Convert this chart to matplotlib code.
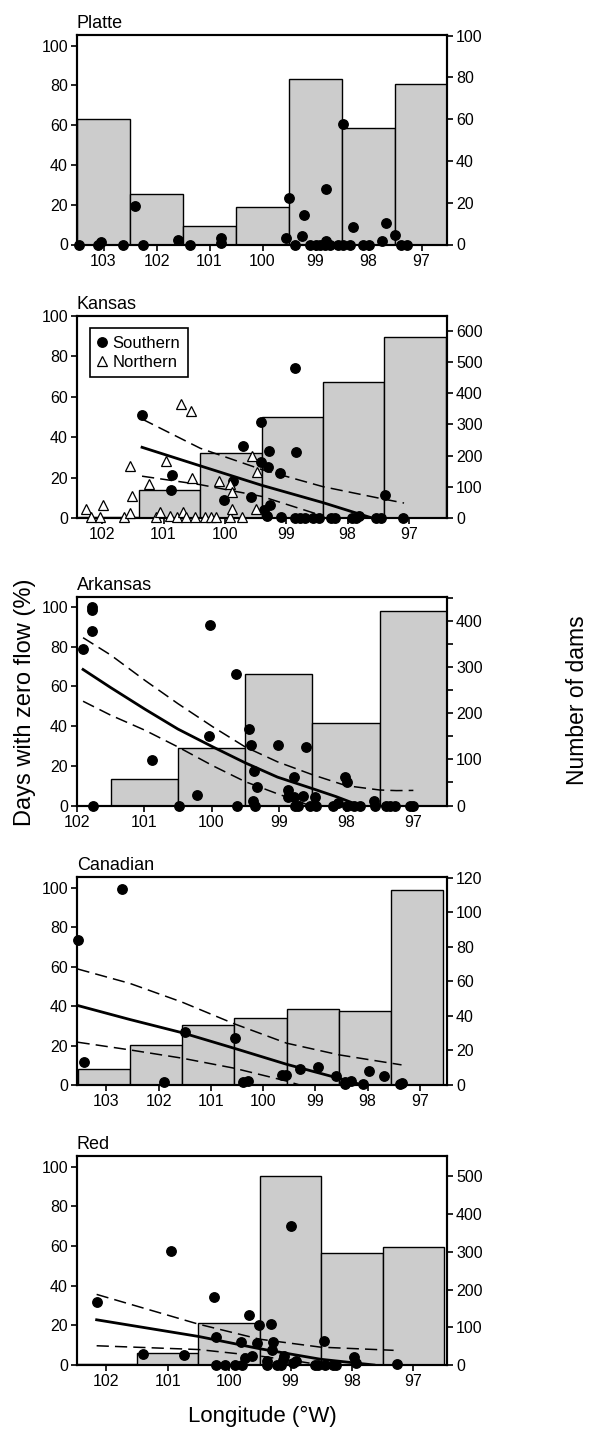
import numpy as np
import matplotlib
matplotlib.use('Agg')
import matplotlib.pyplot as plt
from matplotlib.ticker import MultipleLocator

plt.rcParams['font.family'] = ['Liberation Sans', 'DejaVu Sans']

BAR_COLOR = '#cccccc'

# ---- Platte ----
pla_bins = [103, 102, 101, 100, 99, 98, 97]
pla_dams = [60, 24, 9, 18, 79, 56, 77]
pla_lon = [103.47, 103.1, 103.04, 102.64, 102.41, 102.26, 101.59, 101.36, 100.78, 100.78,
           99.56, 99.51, 99.38, 99.26, 99.21, 99.1, 98.99, 98.92, 98.82, 98.8, 98.8, 98.73,
           98.57, 98.48, 98.48, 98.35, 98.29, 98.1, 98.0, 97.74, 97.68, 97.5, 97.38, 97.28]
pla_val = [0, 0, 1.5, 0, 19.3, 0, 2.2, 0, 3.4, 0.8,
           3.4, 23.3, 0, 4.2, 14.6, 0, 0, 0, 0, 27.7, 2, 0,
           0, 0, 60.7, 0, 8.9, 0, 0, 1.8, 10.6, 5, 0, 0]

# ---- Kansas ----
kan_bins = [101.9, 100.9, 99.9, 98.9, 97.9, 96.9]
kan_dams = [2, 89, 209, 325, 435, 582]
kan_s_lon = [101.35, 100.86, 100.87, 100.02, 99.86, 99.71, 99.58, 99.41, 99.41, 99.37, 99.32,
             99.28, 99.3, 99.27, 99.1, 99.08, 98.85, 98.84, 98.85, 98.77, 98.69, 98.56, 98.47,
             98.27, 98.2, 97.93, 97.86, 97.81, 97.54, 97.46, 97.39, 97.09]
kan_s_val = [50.9, 21.5, 13.7, 9.1, 18.2, 35.5, 10.4, 47.6, 27.8, 3.8, 0.8,
             33.2, 25.3, 6.6, 22.3, 0.5, 74.5, 32.7, 0, 0, 0, 0, 0,
             0, 0, 0, 0, 0.8, 0, 0, 11.2, 0]
kan_n_lon = [102.26, 102.18, 102.03, 101.98, 101.64, 101.55, 101.52, 101.55, 101.23, 101.12,
             101.05, 100.96, 100.89, 100.78, 100.72, 100.68, 100.64, 100.56, 100.54, 100.49,
             100.32, 100.23, 100.14, 100.1, 99.91, 99.91, 99.88, 99.88, 99.72, 99.55, 99.48, 99.49]
kan_n_val = [4.6, 0.5, 0.5, 6.3, 0.5, 2.5, 10.7, 25.6, 17, 0.5,
             3, 28.1, 0.8, 0.5, 56.4, 3, 0.5, 52.9, 19.8, 0.5,
             0.5, 0.5, 0.5, 18.5, 0.5, 17, 12.7, 4.5, 0.5, 30.6, 22.8, 4.5]
kan_fit_lon = [101.35, 100.4, 99.4, 98.4, 97.6]
kan_fit = [35, 25.8, 16.2, 7.6, 0]
kan_hi_lon = [101.35, 100.4, 99.4, 98.4, 97.5, 97.08]
kan_hi = [49, 34.5, 24, 15.5, 9.9, 7.4]
kan_lo_lon = [101.35, 100.4, 99.4, 98.4]
kan_lo = [20.7, 16.5, 10.7, 1.0]

# ---- Arkansas ----
ark_bins = [101, 100, 99, 98, 97]
ark_dams = [58, 124, 286, 178, 422]
ark_lon = [101.91, 101.77, 101.77, 101.78, 101.76, 100.88, 100.49, 100.21, 100.04, 100.02,
           99.64, 99.62, 99.44, 99.41, 99.37, 99.32, 99.38, 99.35, 99.01, 98.87, 98.87, 98.77,
           98.78, 98.76, 98.71, 98.64, 98.59, 98.53, 98.46, 98.44, 98.19, 98.12, 98.01, 97.99,
           97.99, 97.88, 97.79, 97.59, 97.57, 97.41, 97.35, 97.27, 97.05, 97.0]
ark_val = [79, 98.7, 100, 87.7, 0, 23, 0, 5.4, 34.8, 91,
           66, 0, 38.7, 30.6, 17.3, 9.2, 2.5, 0, 30.6, 8, 4.5, 14.3,
           4.2, 0, 0, 5, 29.4, 0, 4.2, 0, 0, 1.2, 14.3, 11.8,
           0, 0, 0, 2.5, 0, 0, 0, 0, 0, 0]
ark_fit_lon = [101.91, 101.5, 100.99, 100.5, 99.98, 99.5, 99.02, 98.5, 98.15, 97.8]
ark_fit = [68.5, 59.4, 48.5, 38.5, 29.5, 21.5, 14.3, 8.5, 4.5, 0]
ark_hi_lon = [101.91, 101.5, 100.99, 100.5, 99.98, 99.5, 99.02, 98.5, 98.0, 97.5, 97.25, 97.0]
ark_hi = [84.5, 75.8, 63, 51.3, 39.6, 29.5, 22, 15.5, 10, 7.8, 7.5, 7.6]
ark_lo_lon = [101.91, 101.5, 100.99, 100.5, 99.98, 99.5, 99.02, 98.67, 98.55]
ark_lo = [52.5, 45.5, 37.9, 29.5, 20, 12, 5.9, 1.7, 0]

# ---- Canadian ----
can_bins = [103.05, 102.05, 101.05, 100.05, 99.05, 98.05, 97.05]
can_dams = [9, 23, 35, 39, 44, 43, 113]
can_lon = [103.54, 103.42, 102.69, 101.89, 101.5, 100.53, 100.38, 100.29, 99.64, 99.56,
           99.29, 98.94, 98.61, 98.44, 98.44, 98.32, 98.08, 97.97, 97.68, 97.38, 97.35]
can_val = [73.4, 11.5, 99.5, 1.3, 27, 23.6, 1.3, 2.2, 5, 5,
           7.9, 8.9, 4.7, 0.3, 1.7, 2.2, 0.3, 7.3, 4.4, 0.3, 1.2]
can_fit_lon = [103.55, 102.55, 101.55, 100.55, 99.55, 98.55, 98.1]
can_fit = [40.3, 33.2, 26.5, 18.6, 10.5, 3.4, 0]
can_hi_lon = [103.55, 102.55, 101.55, 100.55, 99.55, 98.55, 97.35]
can_hi = [58.8, 51.5, 42, 31, 21.2, 15.3, 10.2]
can_lo_lon = [103.55, 102.55, 101.55, 100.55, 99.55, 99.3]
can_lo = [21.7, 17.8, 13.6, 8.5, 2.0, 0]

# ---- Red ----
red_bins = [102, 101, 100, 99, 98, 97]
red_dams = [3, 32, 111, 502, 297, 314]
red_lon = [102.16, 101.4, 100.94, 100.74, 100.24, 100.21, 100.21, 100.06, 99.9, 99.79,
           99.8, 99.75, 99.67, 99.62, 99.55, 99.51, 99.39, 99.39, 99.32, 99.28, 99.3, 99.22,
           99.16, 99.11, 99.12, 98.99, 98.96, 98.91, 98.6, 98.55, 98.46, 98.44, 98.3, 98.26,
           97.97, 97.94, 97.27]
red_val = [31.9, 5.7, 57.7, 4.9, 34.1, 13.9, 0, 0, 0, 0,
           11.7, 3.5, 25.2, 4.5, 11.1, 20, 0, 2.2, 20.5, 11.7, 7.4, 0,
           0, 4.4, 2.3, 70, 1, 2.2, 0, 0, 12.1, 0, 0, 0,
           3.9, 1, 0.5]
red_fit_lon = [102.16, 100.5, 99.5, 98.51, 97.64]
red_fit = [22.8, 14.4, 8.2, 2.9, 0]
red_hi_lon = [102.16, 100.5, 99.5, 98.51, 97.32]
red_hi = [35.6, 20.6, 13, 9.0, 7.4]
red_lo_lon = [102.16, 100.5, 99.5, 98.8, 98.5]
red_lo = [9.7, 7.8, 4.5, 1.5, 0]

fig = plt.figure(figsize=(5.9, 14.29), dpi=100)
W, H = 590.0, 1429.0


def make_axes(top, bottom, left=77, right=447):
    return fig.add_axes([left / W, (H - bottom) / H, (right - left) / W, (bottom - top) / H])


def style(ax):
    for s in ax.spines.values():
        s.set_linewidth(1.5)
    ax.tick_params(direction='out', length=4.5, width=1.2, labelsize=11.5, pad=2)


def panel(top, bottom, name, xlim, ylim_l, ylim_r, xticks, rstep,
          bins, dams, rminor=None):
    ax = make_axes(top, bottom)
    ax2 = ax.twinx()
    ax2.bar(bins, dams, width=1.0, color=BAR_COLOR, edgecolor='black', linewidth=1.0, zorder=1)
    ax2.set_ylim(0, ylim_r)
    ax2.yaxis.set_major_locator(MultipleLocator(rstep))
    if rminor:
        ax2.yaxis.set_minor_locator(MultipleLocator(rminor))
        ax2.tick_params(which='minor', direction='out', length=4.5, width=1.2)
    # points go on the front axes so they sit above the bars
    ax2.set_zorder(1)
    ax.set_zorder(2)
    ax.patch.set_visible(False)
    ax.set_xlim(*xlim)
    ax.set_ylim(*ylim_l)
    ax.set_xticks(xticks)
    ax.set_yticks([0, 20, 40, 60, 80, 100])
    ax.set_title(name, loc='left', fontsize=13, pad=5)
    style(ax)
    style(ax2)
    return ax


def fit_lines(ax, lon, mid, hlon, hi, llon, lo):
    ax.plot(lon, mid, color='black', lw=2.0, zorder=3)
    ax.plot(hlon, hi, color='black', lw=1.1, dashes=(8, 4), zorder=3)
    ax.plot(llon, lo, color='black', lw=1.1, dashes=(8, 4), zorder=3)


def dots(ax, lon, val):
    ax.plot(lon, val, 'o', color='black', ms=6.8, clip_on=False, zorder=4)


ax1 = panel(35, 244.5, 'Platte', (103.5, 96.52), (0, 105.4), 100.3,
            [103, 102, 101, 100, 99, 98, 97], 20, pla_bins, pla_dams)
dots(ax1, pla_lon, pla_val)

ax2 = panel(316, 518, 'Kansas', (102.41, 96.38), (0, 100), 648,
            [102, 101, 100, 99, 98, 97], 100, kan_bins, kan_dams)
fit_lines(ax2, kan_fit_lon, kan_fit, kan_hi_lon, kan_hi, kan_lo_lon, kan_lo)
ax2.plot(kan_s_lon, kan_s_val, 'o', color='black', ms=6.8, clip_on=False, zorder=4,
         label='Southern')
ax2.plot(kan_n_lon, kan_n_val, '^', mfc='white', mec='black', mew=0.9, ms=7,
         linestyle='none', clip_on=False, zorder=4, label='Northern')
leg = ax2.legend(loc='upper left', bbox_to_anchor=(0.035, 0.94), fontsize=12,
                 frameon=True, fancybox=False, edgecolor='black', framealpha=1,
                 handlelength=0.6, handletextpad=0.3, borderpad=0.45, labelspacing=0.25,
                 borderaxespad=0)
leg.get_frame().set_linewidth(1.2)

ax3 = panel(597, 805.5, 'Arkansas', (102.0, 96.5), (0, 105), 452,
            [102, 101, 100, 99, 98, 97], 100, ark_bins, ark_dams, rminor=50)
fit_lines(ax3, ark_fit_lon, ark_fit, ark_hi_lon, ark_hi, ark_lo_lon, ark_lo)
dots(ax3, ark_lon, ark_val)

ax4 = panel(877, 1085, 'Canadian', (103.56, 96.48), (0, 105.4), 120.4,
            [103, 102, 101, 100, 99, 98, 97], 20, can_bins, can_dams)
fit_lines(ax4, can_fit_lon, can_fit, can_hi_lon, can_hi, can_lo_lon, can_lo)
dots(ax4, can_lon, can_val)

ax5 = panel(1156, 1365, 'Red', (102.48, 96.45), (0, 105.4), 554,
            [102, 101, 100, 99, 98, 97], 100, red_bins, red_dams)
fit_lines(ax5, red_fit_lon, red_fit, red_hi_lon, red_hi, red_lo_lon, red_lo)
dots(ax5, red_lon, red_val)

fig.text(25 / W, 1 - 702 / H, 'Days with zero flow (%)', rotation=90,
         ha='center', va='center', fontsize=17)
fig.text(578 / W, 1 - 700 / H, 'Number of dams', rotation=90,
         ha='center', va='center', fontsize=16.5)
fig.text(262 / W, 1 - 1416 / H, 'Longitude (°W)', ha='center', va='center', fontsize=16)

fig.savefig('out.png', dpi=100)
